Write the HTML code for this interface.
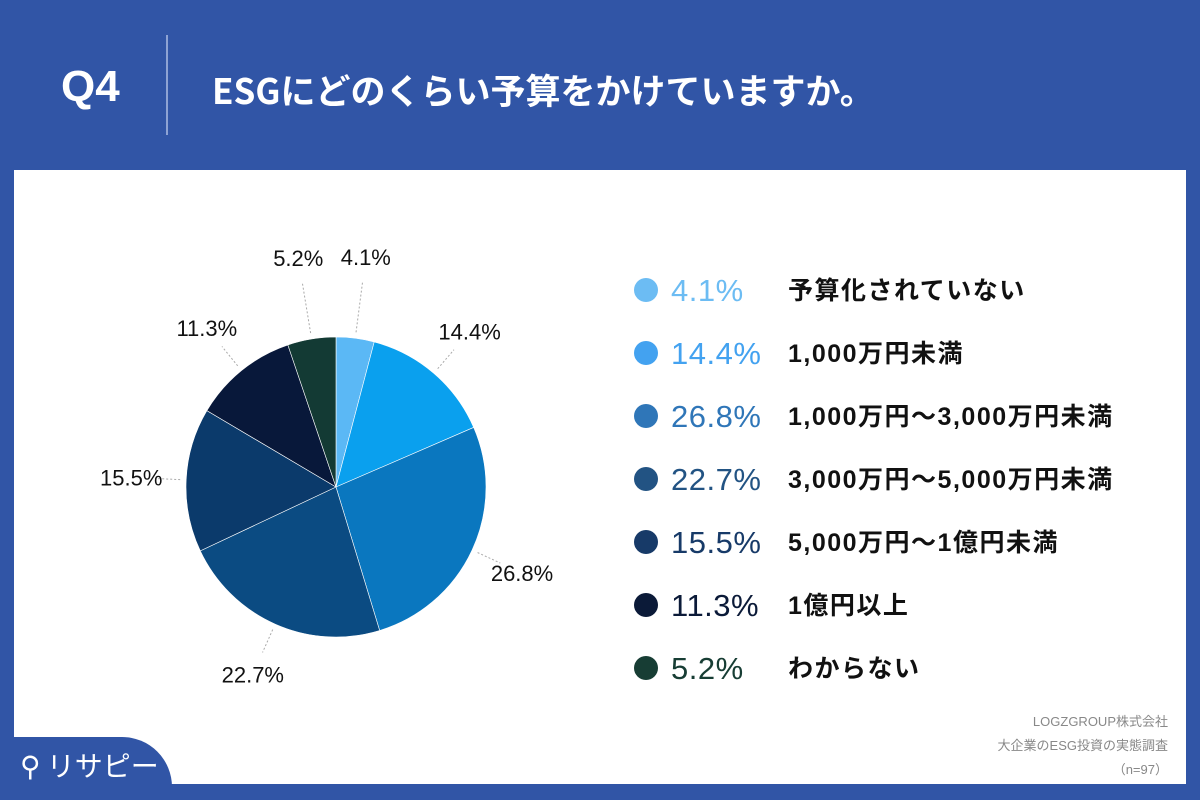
<!DOCTYPE html>
<html><head><meta charset="utf-8"><style>
body{margin:0;width:1200px;height:800px;background:#3155a6;position:relative;overflow:hidden;font-family:"Liberation Sans","Noto Sans CJK JP",sans-serif}
.abs{position:absolute}
</style></head><body>
<div class="abs" style="left:61px;top:62px;color:#fff;font-weight:bold;font-size:44px">Q4</div>
<div class="abs" style="left:166px;top:35px;width:2px;height:100px;background:#8ea3d4"></div>
<div class="abs" style="left:212px;top:64px;color:#fff;font-weight:bold;font-size:35px;font-family:'Noto Sans CJK JP',sans-serif">ESGにどのくらい予算をかけていますか。</div>
<div class="abs" style="left:14px;top:170px;width:1172px;height:614px;background:#fff"></div>
<svg class="abs" style="left:0;top:0" width="1200" height="800" id="chart"></svg>
<div class="abs" style="right:32px;top:710px;text-align:right;color:#888;font-size:13px;line-height:24px">LOGZGROUP株式会社<br>大企業のESG投資の実態調査<br>（n=97）</div>
<div class="abs" style="left:0;top:737px;width:172px;height:63px;background:#3155a6;border-top-right-radius:50px"></div>
<div class="abs" style="left:20px;top:745px;color:#fff;font-size:28px;font-family:'Noto Sans CJK JP',sans-serif">⚲ リサピー</div>
<script>
const categories=["予算化されていない","1,000万円未満","1,000万円〜3,000万円未満","3,000万円〜5,000万円未満","5,000万円〜1億円未満","1億円以上","わからない"];
const values=[4.1,14.4,26.8,22.7,15.5,11.3,5.2];
const sliceColors=["#5bb8f5","#0aa0ee","#0a77bf","#0b4b82","#0b3a6b","#08183a","#133a34"];
const dotColors=["#6cbcf3","#43a2f0","#2f76b8","#225383","#173a68","#0b1a38","#173d34"];
const svg=document.getElementById('chart');const NS="http://www.w3.org/2000/svg";
const cx=336,cy=487,R=150;
const total=values.reduce((a,b)=>a+b,0);
function pt(a,r){return [cx+r*Math.sin(a),cy-r*Math.cos(a)];}
let acc=0;
values.forEach((v,i)=>{
 const a0=acc/total*2*Math.PI;acc+=v;const a1=acc/total*2*Math.PI;
 const p0=pt(a0,R),p1=pt(a1,R);
 const p=document.createElementNS(NS,'path');
 p.setAttribute('d',`M${cx},${cy}L${p0[0]},${p0[1]}A${R},${R} 0 ${a1-a0>Math.PI?1:0} 1 ${p1[0]},${p1[1]}Z`);
 p.setAttribute('fill',sliceColors[i]);p.setAttribute('stroke','#fff');p.setAttribute('stroke-width','0.6');
 
 
 svg.appendChild(p);
 const am=(a0+a1)/2;const rl=v<6?232:205;
 const l0=pt(am,R+6),l1=pt(am,rl-24);
 const ln=document.createElementNS(NS,'line');
 ln.setAttribute('x1',l0[0]);ln.setAttribute('y1',l0[1]);ln.setAttribute('x2',l1[0]);ln.setAttribute('y2',l1[1]);
 ln.setAttribute('stroke','#aaa');ln.setAttribute('stroke-dasharray','2,2');
 
 
 svg.appendChild(ln);
 const lp=pt(am,rl);
 const t=document.createElementNS(NS,'text');
 t.setAttribute('x',lp[0]);t.setAttribute('y',lp[1]+8);t.setAttribute('text-anchor','middle');
 t.setAttribute('font-size','22');t.setAttribute('fill','#111');t.textContent=v.toFixed(1)+'%';
 
 
 svg.appendChild(t);
 const y=290+i*63;
 const c=document.createElementNS(NS,'circle');
 c.setAttribute('cx',646);c.setAttribute('cy',y);c.setAttribute('r',12);c.setAttribute('fill',dotColors[i]);
 
 
 svg.appendChild(c);
 const tp=document.createElementNS(NS,'text');
 tp.setAttribute('x',671);tp.setAttribute('y',y+11);tp.setAttribute('font-size','31');tp.setAttribute('fill',dotColors[i]);
 tp.setAttribute('letter-spacing','0.5');
 tp.textContent=v.toFixed(1)+'%';
 
 
 svg.appendChild(tp);
 const tl=document.createElementNS(NS,'text');
 tl.setAttribute('x',788);tl.setAttribute('y',y+9);tl.setAttribute('font-size','25');tl.setAttribute('font-weight','bold');tl.setAttribute('fill','#111');
 tl.setAttribute('letter-spacing','1.5');
 tl.setAttribute('font-family','"Liberation Sans","Noto Sans CJK JP",sans-serif');
 tl.textContent=categories[i];
 
 
 svg.appendChild(tl);
});
</script>
</body></html>
